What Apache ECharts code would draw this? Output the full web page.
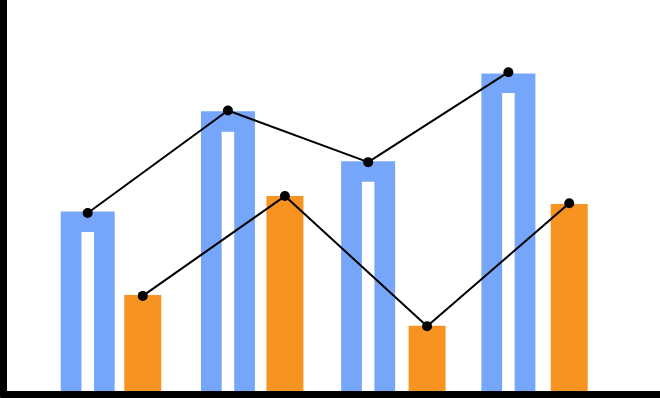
<!DOCTYPE html>
<html>
<head>
<meta charset="utf-8">
<script src="https://cdn.jsdelivr.net/npm/echarts@6/dist/echarts.min.js"></script>
<style>html,body{margin:0;padding:0;background:#fff}#c{width:660px;height:398px}</style>
</head>
<body>
<div id="c"></div>
<script>
var categories = ['A', 'B', 'C', 'D'];
var blueBars = [46.4, 71.8, 59.1, 81.4];
var blueInner = [41.2, 66.6, 53.9, 76.4];
var orangeBars = [25.2, 50.3, 17.4, 48.3];
var blueLine = [46.0, 72.0, 58.9, 81.7];
var orangeLine = [25.0, 50.3, 17.3, 48.5];
var yTicks = [0, 25, 50, 75, 100];

var chart = echarts.init(document.getElementById('c'));
var yMin = yTicks[0], yMax = yTicks[yTicks.length - 1], yStep = yTicks[1] - yTicks[0];

function hiddenX(i) { return { type: 'category', gridIndex: i, data: categories, show: false }; }
function hiddenY(i) { return { type: 'value', gridIndex: i, min: yMin, max: yMax, show: false }; }

chart.setOption({
  animation: false,
  grid: [
    { left: 3.5, right: 0, top: 0, bottom: 3.5 },
    { left: 17.6, width: 560.9, top: 0, bottom: 3.5 },
    { left: 17.6, width: 560.9, top: 0, bottom: 3.5 },
    { left: 71.7, width: 568.6, top: 0, bottom: 3.5 }
  ],
  xAxis: [
    { type: 'category', gridIndex: 0, data: categories, z: 10,
      axisLine: { show: true, lineStyle: { color: '#000', width: 8 } },
      axisTick: { show: false }, axisLabel: { show: false }, splitLine: { show: false } },
    hiddenX(1), hiddenX(2), hiddenX(3)
  ],
  yAxis: [
    { type: 'value', gridIndex: 0, min: yMin, max: yMax, interval: yStep, z: 10,
      axisLine: { show: true, lineStyle: { color: '#000', width: 7 } },
      axisTick: { show: true, length: 3, lineStyle: { color: '#000', width: 2 } },
      axisLabel: { show: false }, splitLine: { show: false } },
    hiddenY(1), hiddenY(2), hiddenY(3)
  ],
  series: [
    { type: 'bar', xAxisIndex: 1, yAxisIndex: 1, data: blueBars, barWidth: 54,
      itemStyle: { color: '#76A6FA' } },
    { type: 'bar', xAxisIndex: 2, yAxisIndex: 2, data: blueInner, barWidth: 12.5,
      itemStyle: { color: '#ffffff' } },
    { type: 'bar', xAxisIndex: 3, yAxisIndex: 3, data: orangeBars, barWidth: 37,
      itemStyle: { color: '#F79320' } },
    { type: 'line', xAxisIndex: 1, yAxisIndex: 1, data: blueLine, z: 5,
      symbol: 'circle', symbolSize: 10, lineStyle: { color: '#000', width: 2 },
      itemStyle: { color: '#000' } },
    { type: 'line', xAxisIndex: 3, yAxisIndex: 3, data: orangeLine, z: 5,
      symbol: 'circle', symbolSize: 10, lineStyle: { color: '#000', width: 2 },
      itemStyle: { color: '#000' } }
  ]
});
</script>
</body>
</html>
